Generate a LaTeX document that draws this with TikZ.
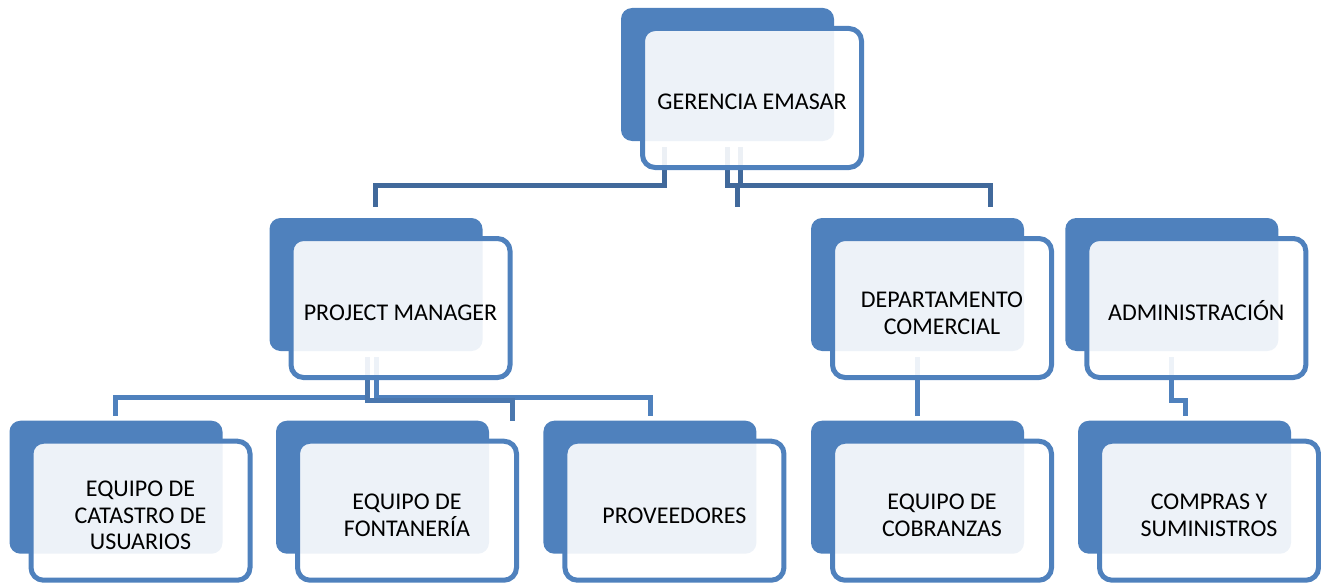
\documentclass[tikz,border=0pt]{standalone}
\usepackage{fontspec}
\setmainfont{Carlito}
\usetikzlibrary{backgrounds}
\definecolor{boxblue}{HTML}{4F81BD}
\definecolor{linkdark}{HTML}{41699B}
\definecolor{linkmid}{HTML}{4A77AE}
\tikzset{
  backbox/.style={rectangle,rounded corners=11pt,fill=boxblue,draw=none,inner sep=0pt,outer sep=0pt,
    minimum width=213pt,minimum height=133pt,anchor=north west},
  frontbox/.style={rectangle,rounded corners=12.5pt,draw=boxblue,line width=5pt,fill=white,fill opacity=0.9,
    draw opacity=1,text opacity=1,inner sep=0pt,outer sep=0pt,minimum width=219pt,minimum height=139pt,anchor=north west},
  boxtext/.style={inner sep=0pt,align=center,font=\fontsize{24pt}{26.6pt}\selectfont,text=black},
  linktop/.style={draw=linkdark,line width=5pt,miter limit=10},
  linklow/.style={draw=boxblue,line width=5pt},
  linklowdark/.style={draw=linkmid,line width=5pt}
}
% [text drop], name, back-box left, back-box top, text
\newcommand{\orgbox}[5][4.7]{%
  \node[backbox] (#2-back) at (#3,#4) {};
  \node[frontbox] (#2) at ([shift={(21.5,20.5)}]#2-back.north west) {};
  \node[boxtext] (#2-text) at ([shift={(0,#1)}]#2.center) {#5};
}
\begin{document}
\begin{tikzpicture}[x=1pt,y=-1pt]
\useasboundingbox (0,0) rectangle (1321,583);
\orgbox[3.5]{gerencia}{621}{8}{GERENCIA EMASAR}
\orgbox{pm}{269.5}{218}{PROJECT MANAGER}
\orgbox[5]{comercial}{811}{218}{DEPARTAMENTO\\COMERCIAL}
\orgbox[3]{admin}{1065.3}{218}{ADMINISTRACIÓN}
\orgbox{catastro}{9.5}{420.7}{EQUIPO DE\\CATASTRO DE\\USUARIOS}
\orgbox{fontaneria}{276}{420.7}{EQUIPO DE\\FONTANERÍA}
\orgbox{proveedores}{543.4}{420.7}{PROVEEDORES}
\orgbox{cobranzas}{811}{420.7}{EQUIPO DE\\COBRANZAS}
\orgbox{compras}{1078}{420.7}{COMPRAS Y\\SUMINISTROS}
\begin{pgfonlayer}{background}
  % from GERENCIA EMASAR
  \draw[linktop] ([shift={(22,-20.5)}]gerencia.south west) -- ++(0,38.7) -| ([shift={(84.5,-31.5)}]pm.north west);
  \draw[linktop] ([shift={(85,-20.5)}]gerencia.south west) -- ++(0,38.7) -| ([shift={(-95,-31.5)}]comercial.north west);
  \draw[linktop] ([shift={(97.5,-20.5)}]gerencia.south west) -- ++(0,38.7) -| ([shift={(157.5,-31.5)}]comercial.north west);
  % from PROJECT MANAGER
  \draw[linklow] ([shift={(76.5,-20.5)}]pm.south west) -- ++(0,40.5) -| ([shift={(84.5,-25.5)}]catastro.north west);
  \draw[linklow] ([shift={(85,-20.5)}]pm.south west) -- ++(0,40.5) -| ([shift={(85.6,-25.2)}]proveedores.north west);
  \draw[linklowdark] ([shift={(76.5,-20.5)}]pm.south west) -- ++(0,43) -| ([shift={(215,-20.5)}]fontaneria.north west);
  % single children
  \draw[linklow] ([shift={(85,-20.5)}]comercial.south west) -- ([shift={(85,-25.5)}]cobranzas.north west);
  \draw[linklow] ([shift={(85,-20.5)}]admin.south west) -- ++(0,43) -| ([shift={(85.5,-25.5)}]compras.north west);
\end{pgfonlayer}
\end{tikzpicture}
\end{document}
